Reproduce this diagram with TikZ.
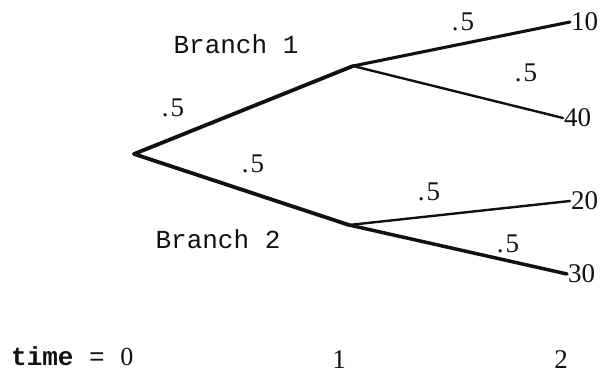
\documentclass[tikz,border=0pt]{standalone}
\usepackage{fontspec}
\setmainfont{Liberation Serif}
\setmonofont{Liberation Mono}
\usepackage{tikz}
\usetikzlibrary{positioning,calc}
\definecolor{ink}{HTML}{111111}
\tikzset{
  % --- nodes
  every node/.style={inner sep=1pt},
  lbl/.style   = {font=\fontsize{26}{30}\selectfont\ttfamily, text=ink},
  prob/.style  = {font=\fontsize{27}{31}\selectfont\rmfamily, text=ink},
  leaf/.style  = {prob, anchor=west},
  % --- edges
  e/.style     = {line width=3.8pt, draw=ink, line cap=round, line join=round},
  ethin/.style = {line width=2.4pt, draw=ink, line cap=round},
}
\begin{document}
\begin{tikzpicture}[x=1pt,y=-1pt]
  \useasboundingbox (0,0) rectangle (611,377);
  \coordinate (t0) at (134,154);
  \coordinate (n1) at (353,66);
  \coordinate (n2) at (349,225);
  \node[leaf] (l10) at (570,22) {10};
  \node[leaf] (l40) at (563,118) {40};
  \node[leaf] (l20) at (570,201) {20};
  \node[leaf] (l30) at (567,274) {30};
  \node[lbl] (br1) at (236,44) {Branch 1};
  \node[lbl] (br2) at (218,239) {Branch 2};
  \node[prob] (p1) at (173,108) {.\kern2pt5};
  \node[prob] (p2) at (253,164) {.\kern2pt5};
  \node[prob] (p3) at (463,22) {.\kern2pt5};
  \node[prob] (p4) at (526,73) {.\kern2pt5};
  \node[prob] (p5) at (429,192) {.\kern2pt5};
  \node[prob] (p6) at (508,244) {.\kern2pt5};
  \node[lbl,anchor=base west] (tm0) at (10,365) {\bfseries time\mdseries{} = \rmfamily 0};
  \node[prob,anchor=base] (tm1) at (339,368) {1};
  \node[prob,anchor=base] (tm2) at (561,368) {2};
  \draw[e] (t0)--(n1); \draw[e] (t0)--(n2);
  \draw[e,line width=3.1pt] (n1)--(l10.west); \draw[ethin] (n1)--(l40.west);
  \draw[ethin] (n2)--(l20.west); \draw[e,line width=3.5pt] (n2)--(l30.west);
\end{tikzpicture}
\end{document}
